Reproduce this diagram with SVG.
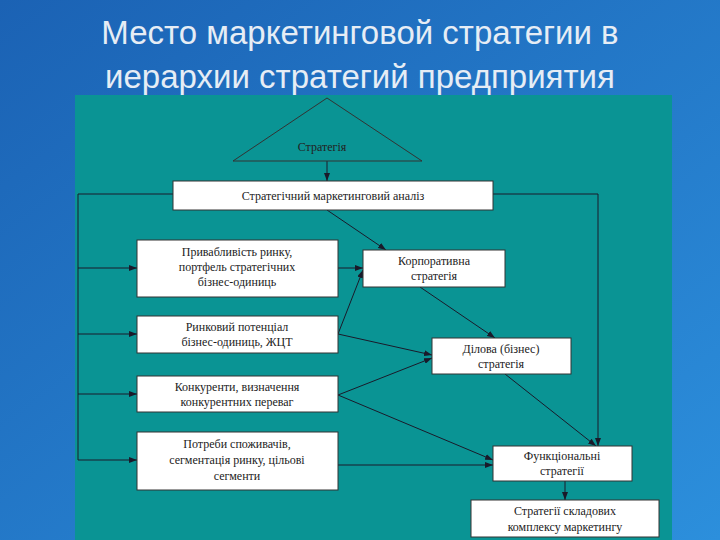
<svg xmlns="http://www.w3.org/2000/svg" width="720" height="540" viewBox="0 0 720 540">
<defs>
<linearGradient id="bg" x1="0" y1="0" x2="1" y2="1"><stop offset="0" stop-color="#1b62b4"/><stop offset="1" stop-color="#2c8fdc"/></linearGradient>
<marker id="a" markerWidth="8" markerHeight="6" refX="8" refY="3" orient="auto" markerUnits="userSpaceOnUse"><path d="M0,0L8,3L0,6z" fill="#1a1a2a"/></marker>
</defs>
<style>
.b{fill:#fff;stroke:#333;stroke-width:1}
.t{font-family:"Liberation Serif",serif;font-size:12px;fill:#222;text-anchor:middle}
.c line,.c polyline{stroke:#1a1a2a;stroke-width:1;fill:none}
.h{font-family:"Liberation Sans",Arial,sans-serif;font-size:33px;fill:#e6edf5;text-anchor:middle}
</style>
<rect width="720" height="540" fill="url(#bg)"/>
<text class="h" x="360" y="44">Место маркетинговой стратегии в</text>
<text class="h" x="360" y="88">иерархии стратегий предприятия</text>
<rect x="75" y="95" width="597" height="445" fill="#0a9494"/>
<g class="c">
<line x1="327" y1="161" x2="327" y2="181" marker-end="url(#a)"/>
<polyline points="173,194 78,194 78,460"/>
<line x1="78" y1="268" x2="137" y2="268" marker-end="url(#a)"/>
<line x1="78" y1="334" x2="137" y2="334" marker-end="url(#a)"/>
<line x1="78" y1="394" x2="137" y2="394" marker-end="url(#a)"/>
<line x1="78" y1="460" x2="137" y2="460" marker-end="url(#a)"/>
<polyline points="493,194 598,194 598,446" marker-end="url(#a)"/>
<line x1="327" y1="210" x2="386" y2="250" marker-end="url(#a)"/>
<line x1="338" y1="268" x2="363" y2="268" marker-end="url(#a)"/>
<line x1="338" y1="334" x2="363" y2="270" marker-end="url(#a)"/>
<line x1="338" y1="334" x2="432" y2="355" marker-end="url(#a)"/>
<line x1="338" y1="395" x2="432" y2="358" marker-end="url(#a)"/>
<line x1="338" y1="395" x2="493" y2="460" marker-end="url(#a)"/>
<line x1="338" y1="465" x2="493" y2="465" marker-end="url(#a)"/>
<line x1="420" y1="287" x2="495" y2="338" marker-end="url(#a)"/>
<line x1="505" y1="374" x2="596" y2="446" marker-end="url(#a)"/>
<line x1="565" y1="481" x2="565" y2="500" marker-end="url(#a)"/>
</g>
<g id="n0"><polygon points="327,98 422,161 233,161" fill="#0a9494" stroke="#333"/><text class="t" x="322" y="151">Стратегія</text></g>
<g id="n1"><rect class="b" x="173" y="181" width="320" height="29"/><text class="t" x="333" y="200">Стратегічний маркетинговий аналіз</text></g>
<g id="n2"><rect class="b" x="137" y="240" width="201" height="57"/><text class="t" x="237" y="256">Привабливість ринку,</text><text class="t" x="237" y="271">портфель стратегічних</text><text class="t" x="237" y="286">бізнес-одиниць</text></g>
<g id="n3"><rect class="b" x="137" y="316" width="201" height="37"/><text class="t" x="237" y="331">Ринковий потенціал</text><text class="t" x="237" y="346">бізнес-одиниць, ЖЦТ</text></g>
<g id="n4"><rect class="b" x="137" y="376" width="201" height="36"/><text class="t" x="237" y="391">Конкуренти, визначення</text><text class="t" x="237" y="406">конкурентних переваг</text></g>
<g id="n5"><rect class="b" x="137" y="432" width="201" height="58"/><text class="t" x="237" y="448">Потреби споживачів,</text><text class="t" x="237" y="464">сегментація ринку, цільові</text><text class="t" x="237" y="480">сегменти</text></g>
<g id="n6"><rect class="b" x="363" y="250" width="142" height="37"/><text class="t" x="434" y="265">Корпоративна</text><text class="t" x="434" y="280">стратегія</text></g>
<g id="n7"><rect class="b" x="432" y="338" width="139" height="36"/><text class="t" x="501" y="353">Ділова (бізнес)</text><text class="t" x="501" y="368">стратегія</text></g>
<g id="n8"><rect class="b" x="493" y="446" width="139" height="35"/><text class="t" x="562" y="460">Функціональні</text><text class="t" x="562" y="475">стратегії</text></g>
<g id="n9"><rect class="b" x="471" y="500" width="188" height="37"/><text class="t" x="565" y="515">Стратегії складових</text><text class="t" x="565" y="531">комплексу маркетингу</text></g>
</svg>
